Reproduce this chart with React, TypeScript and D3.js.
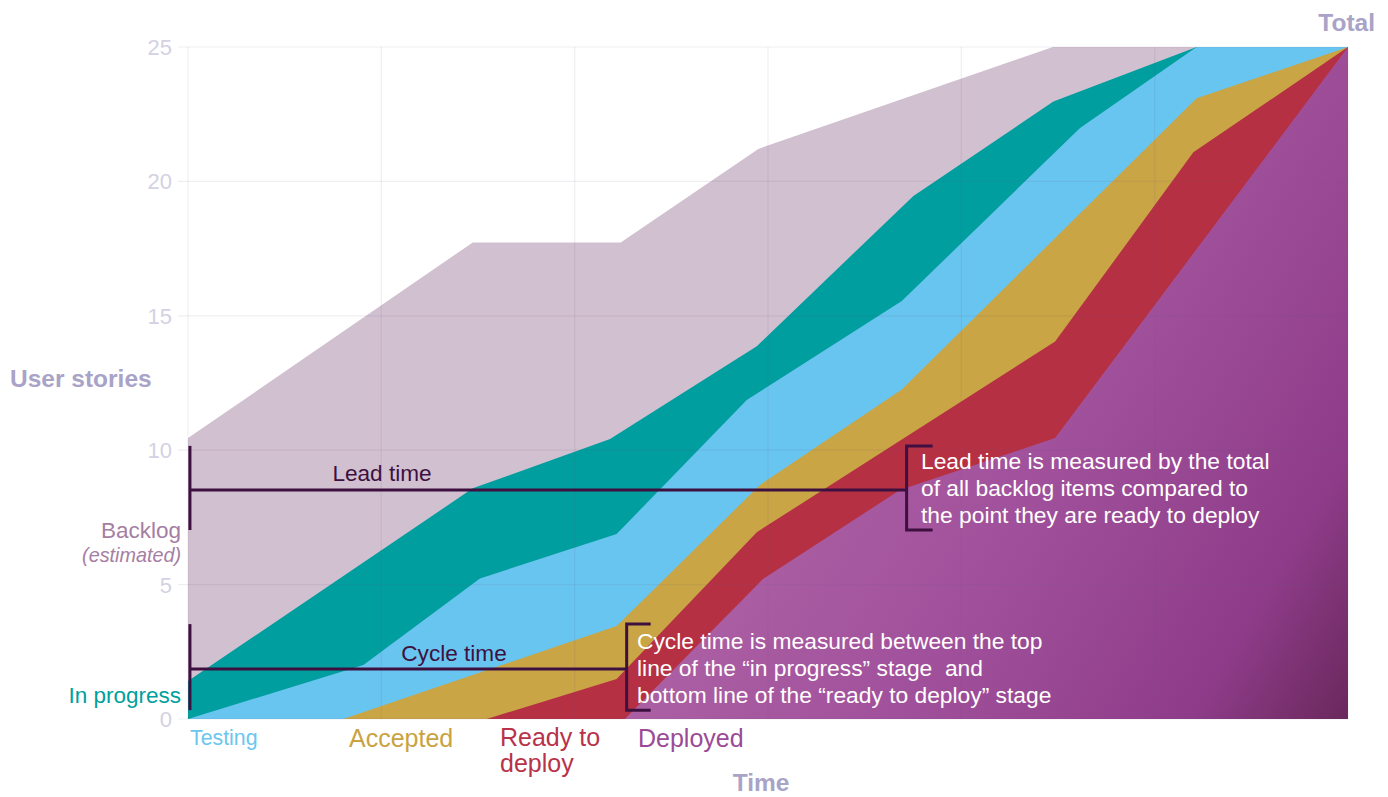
import React from "react";
import * as d3 from "d3";

// x: time units (grid every 10), y: user stories
const xTicks = [0, 10, 20, 30, 40, 50, 60];
const yTicks = [0, 5, 10, 15, 20, 25];

const backlogTop: [number, number][] = [
  [0, 10.45], [14.73, 17.73], [22.38, 17.73], [29.5, 21.21], [44.74, 25], [60, 25],
];
const inProgressTop: [number, number][] = [
  [0, 1.41], [14.73, 8.58], [21.83, 10.42], [29.42, 13.87], [37.52, 19.46], [44.76, 22.97], [52.17, 25], [60, 25],
];
const testingTop: [number, number][] = [
  [0, 0], [9.07, 2.01], [15.1, 5.23], [22.17, 6.88], [28.9, 11.87], [36.92, 15.55], [46.14, 21.99], [52.17, 25], [60, 25],
];
const acceptedTop: [number, number][] = [
  [8.03, 0], [22.17, 3.46], [29.59, 8.71], [36.92, 12.26], [52.17, 23.09], [60, 25],
];
const readyTop: [number, number][] = [
  [15.45, 0], [22.17, 1.49], [29.42, 6.95], [44.85, 14.04], [52.0, 21.08], [60, 25],
];
const deployedTop: [number, number][] = [
  [22.6, 0], [29.74, 5.21], [36.83, 8.52], [44.85, 10.45], [60, 25],
];

const layers = [
  { name: "Backlog", data: backlogTop, fill: "#d1c0d0" },
  { name: "In progress", data: inProgressTop, fill: "#009e9f" },
  { name: "Testing", data: testingTop, fill: "#68c5ef" },
  { name: "Accepted", data: acceptedTop, fill: "#c9a545" },
  { name: "Ready to deploy", data: readyTop, fill: "#b63044" },
  { name: "Deployed", data: deployedTop, fill: "url(#deployGrad)" },
];

const leadLines = [
  "Lead time is measured by the total",
  "of all backlog items compared to",
  "the point they are ready to deploy",
];
const cycleLines = [
  "Cycle time is measured between the top",
  "line of the \u201cin progress\u201d stage  and",
  "bottom line of the \u201cready to deploy\u201d stage",
];

const FONT = "'Liberation Sans', Arial, Helvetica, sans-serif";
const DARK = "#3e1040";

export default function App() {
  const W = 1388, H = 797;
  const x = d3.scaleLinear().domain([0, 60]).range([188, 1348]);
  const y = d3.scaleLinear().domain([0, 25]).range([719, 47]);
  const area = d3
    .area<[number, number]>()
    .x((d) => x(d[0]))
    .y0(() => y(0))
    .y1((d) => y(d[1]));

  const bracket = (
    xl: number, xr: number, yTop: number, yBot: number, yMid: number, tick: number
  ) => {
    const L = x(xl), R = x(xr), T = y(yTop), B = y(yBot), M = y(yMid);
    return (
      <g stroke={DARK} strokeWidth={3} fill="none">
        <line x1={L} x2={L} y1={T} y2={B} />
        <line x1={L} x2={R} y1={M} y2={M} />
        <path d={`M${R + tick},${T} H${R} V${B} H${R + tick}`} />
      </g>
    );
  };

  return (
    <svg
      width={W}
      height={H}
      style={{ position: "absolute", left: 0, top: 0, background: "#fff" }}
      fontFamily={FONT}
    >
      <defs>
        <linearGradient id="deployGrad" gradientUnits="userSpaceOnUse" x1={700} y1={330} x2={1348} y2={719}>
          <stop offset="0" stopColor="#b268a8" />
          <stop offset="0.5" stopColor="#a0509b" />
          <stop offset="0.82" stopColor="#8e3c89" />
          <stop offset="1" stopColor="#6a285c" />
        </linearGradient>
      </defs>

      {layers.map((l) => (
        <path key={l.name} d={area(l.data) || ""} fill={l.fill} />
      ))}

      {/* grid */}
      <g stroke="#6a5a80" strokeOpacity={0.1} strokeWidth={1.2}>
        {yTicks.map((t) => (
          <line key={"h" + t} x1={178} x2={x(60)} y1={y(t)} y2={y(t)} />
        ))}
        {xTicks.map((t) => (
          <line key={"v" + t} x1={x(t)} x2={x(t)} y1={y(25)} y2={y(0)} />
        ))}
      </g>

      {/* y tick labels */}
      {yTicks.map((t) => (
        <text key={"t" + t} x={172} y={y(t)} dy="0.36em" textAnchor="end" fontSize={22} fill="#d4d1e3">
          {t}
        </text>
      ))}

      {/* axis titles */}
      <text x={10} y={387} fontSize={24.5} fontWeight="bold" fill="#a8a3c7">User stories</text>
      <text x={1375} y={31} fontSize={24.5} fontWeight="bold" fill="#a8a3c7" textAnchor="end">Total</text>
      <text x={761} y={791} fontSize={24.5} fontWeight="bold" fill="#a8a3c7" textAnchor="middle">Time</text>

      {/* left labels */}
      <text x={181} y={538} fontSize={22.5} fill="#a57ea3" textAnchor="end">Backlog</text>
      <text x={181} y={562} fontSize={19.8} fontStyle="italic" fill="#a57ea3" textAnchor="end">(estimated)</text>
      <text x={181} y={703} fontSize={22.5} fill="#009f9f" textAnchor="end">In progress</text>

      {/* stage labels */}
      <text x={190} y={745} fontSize={21.3} fill="#6cc6ee">Testing</text>
      <text x={349} y={747} fontSize={25} fill="#c9a341">Accepted</text>
      <text x={500} y={746} fontSize={25} fill="#b8324a">Ready to</text>
      <text x={500} y={772} fontSize={25} fill="#b8324a">deploy</text>
      <text x={638} y={747} fontSize={25} fill="#9b4a97">Deployed</text>

      {/* brackets */}
      {bracket(0.1, 37.17, 10.16, 7.03, 8.52, 26)}
      {bracket(0.1, 22.69, 3.53, 0.33, 1.86, 24)}
      <text x={382} y={481} fontSize={22.6} fill={DARK} textAnchor="middle">Lead time</text>
      <text x={454} y={661} fontSize={22.6} fill={DARK} textAnchor="middle">Cycle time</text>

      {leadLines.map((s, i) => (
        <text key={"l" + i} x={921} y={469 + i * 27} fontSize={22.8} fill="#fff">{s}</text>
      ))}
      {cycleLines.map((s, i) => (
        <text key={"c" + i} x={637} y={649 + i * 27} fontSize={22.8} fill="#fff" style={{ whiteSpace: "pre" }}>{s}</text>
      ))}
    </svg>
  );
}
